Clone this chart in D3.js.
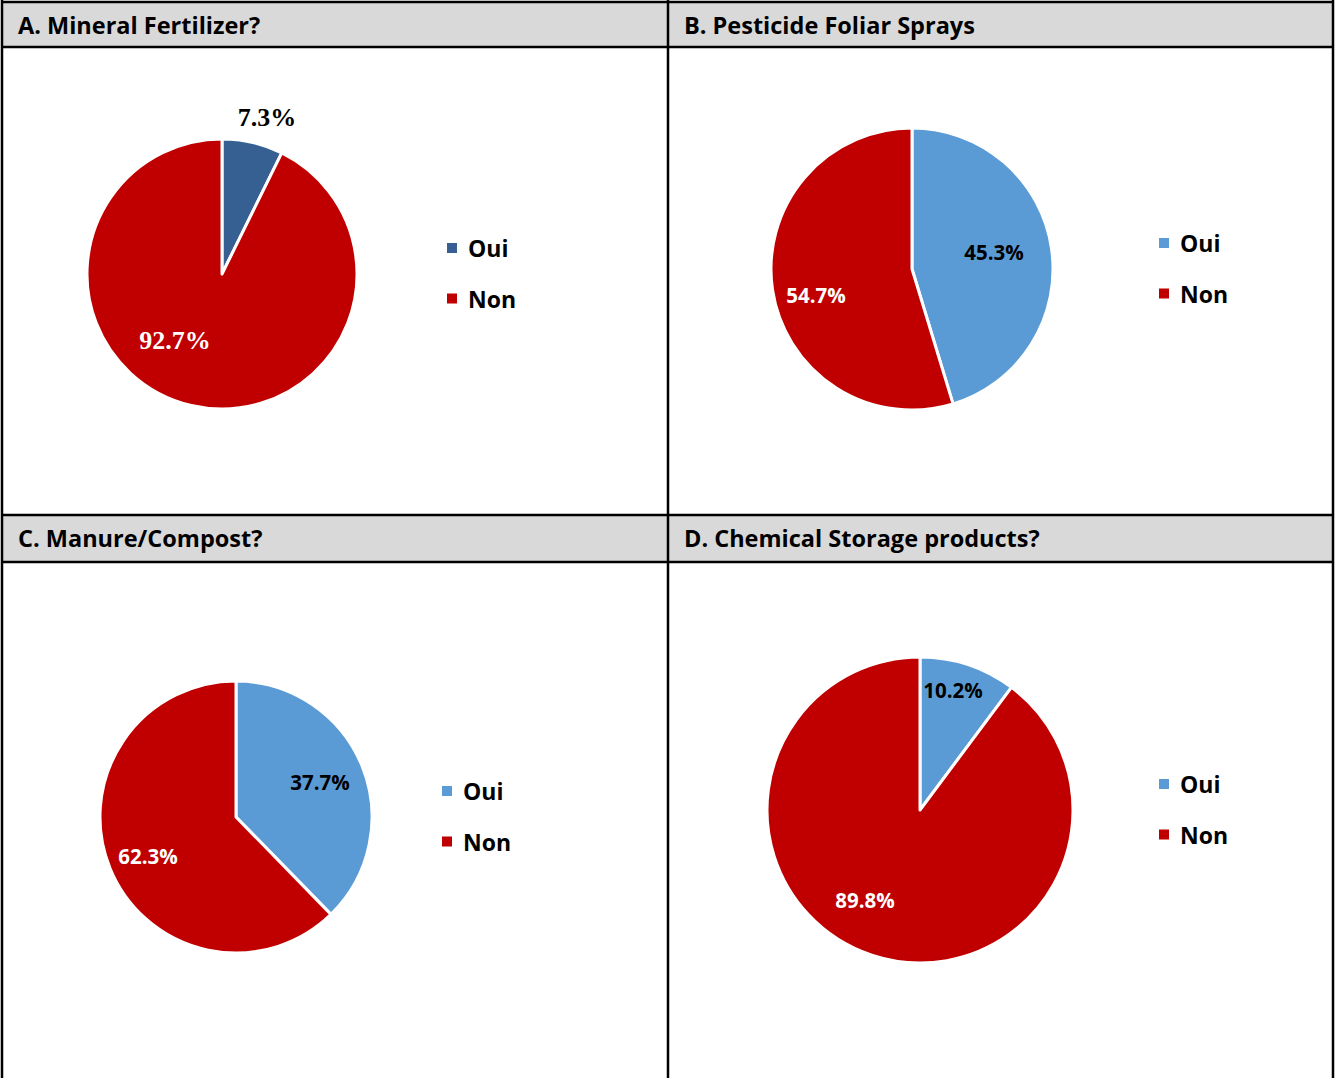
<!DOCTYPE html>
<html>
<head>
<meta charset="utf-8">
<script src="https://cdn.jsdelivr.net/npm/d3@7"></script>
<style>
  html, body { margin: 0; padding: 0; background: #fff; }
  svg { display: block; }
</style>
</head>
<body>
<svg id="chart" width="1335" height="1078"></svg>
<script>
// Survey answers per practice (share of respondents, %)
const categories = ["Oui", "Non"];
const panelTitles = [
  "A. Mineral Fertilizer?",
  "B. Pesticide Foliar Sprays",
  "C. Manure/Compost?",
  "D. Chemical Storage products?"
];
const mineralFertilizer = [7.3, 92.7];
const pesticideSprays = [45.3, 54.7];
const manureCompost = [37.7, 62.3];
const chemicalStorage = [10.2, 89.8];
const panelValues = [mineralFertilizer, pesticideSprays, manureCompost, chemicalStorage];

const ouiColors = ["#376092", "#5B9BD5", "#5B9BD5", "#5B9BD5"];
const nonColor = "#C00000";

// Per-panel geometry: pie centre/radius, label anchors, legend anchor
const panels = [
  { cx: 222, cy: 274, r: 135, legend: [452, 248], serif: true,
    labels: [{x: 267, y: 117, fill: "#000"}, {x: 175, y: 340, fill: "#fff"}] },
  { cx: 912, cy: 269, r: 141, legend: [1164, 243], serif: false,
    labels: [{x: 994, y: 252, fill: "#000"}, {x: 816, y: 295, fill: "#fff"}] },
  { cx: 236, cy: 817, r: 136, legend: [447, 791], serif: false,
    labels: [{x: 320, y: 782, fill: "#000"}, {x: 148, y: 856, fill: "#fff"}] },
  { cx: 920, cy: 810, r: 153, legend: [1164, 784], serif: false,
    labels: [{x: 953, y: 690, fill: "#000"}, {x: 865, y: 900, fill: "#fff"}] }
];

const sansFont = "'Open Sans', Lato, 'DejaVu Sans', sans-serif";
const serifFont = "'Liberation Serif', 'DejaVu Serif', serif";

const svg = d3.select("#chart");

// Table frame: header bands and grid lines
const colX = [2, 668, 1333];
const rows = [{ top: 2, headBottom: 47 }, { top: 515, headBottom: 562 }];

rows.forEach((row, ri) => {
  svg.append("rect")
    .attr("x", colX[0]).attr("y", row.top)
    .attr("width", colX[2] - colX[0]).attr("height", row.headBottom - row.top)
    .attr("fill", "#D9D9D9");
  [0, 1].forEach(ci => {
    svg.append("text")
      .attr("x", colX[ci] + 16)
      .attr("y", row.top + 32)
      .attr("font-family", sansFont)
      .attr("font-weight", "bold")
      .attr("font-size", 23.5)
      .attr("fill", "#000")
      .text(panelTitles[ri * 2 + ci]);
  });
});

const lineStyle = sel => sel.attr("stroke", "#000").attr("stroke-width", 2.5);
[2, 47, 515, 562].forEach(y => {
  svg.append("line").attr("x1", 1).attr("x2", 1334).attr("y1", y).attr("y2", y).call(lineStyle);
});
colX.forEach(x => {
  svg.append("line").attr("x1", x).attr("x2", x).attr("y1", 0).attr("y2", 1078).call(lineStyle);
});

// Pies
const pie = d3.pie().sort(null).value(d => d);

panels.forEach((p, i) => {
  const values = panelValues[i];
  const color = d3.scaleOrdinal().domain(categories).range([ouiColors[i], nonColor]);
  const arc = d3.arc().innerRadius(0).outerRadius(p.r);
  const g = svg.append("g").attr("transform", `translate(${p.cx},${p.cy})`);

  g.selectAll("path")
    .data(pie(values))
    .join("path")
    .attr("d", arc)
    .attr("fill", (d, k) => color(categories[k]))
    .attr("stroke", "#fff")
    .attr("stroke-width", 3)
    .attr("stroke-linejoin", "round");

  // Percentage labels
  pie(values).forEach((d, k) => {
    svg.append("text")
      .attr("x", p.labels[k].x)
      .attr("y", p.labels[k].y)
      .attr("text-anchor", "middle")
      .attr("dominant-baseline", "central")
      .attr("font-family", p.serif ? serifFont : sansFont)
      .attr("font-weight", "bold")
      .attr("font-size", p.serif ? 26 : 20.5)
      .attr("fill", p.labels[k].fill)
      .text(d3.format(".1f")(d.data) + "%");
  });

  // Legend
  const lg = svg.append("g").attr("transform", `translate(${p.legend[0]},${p.legend[1]})`);
  categories.forEach((c, k) => {
    const row = lg.append("g").attr("transform", `translate(0,${k * 50.5})`);
    row.append("rect")
      .attr("x", -5).attr("y", -5).attr("width", 10).attr("height", 10)
      .attr("fill", color(c));
    row.append("text")
      .attr("x", 16).attr("y", 0)
      .attr("dominant-baseline", "central")
      .attr("font-family", sansFont)
      .attr("font-weight", "bold")
      .attr("font-size", 23)
      .attr("fill", "#000")
      .text(c);
  });
});
</script>
</body>
</html>
